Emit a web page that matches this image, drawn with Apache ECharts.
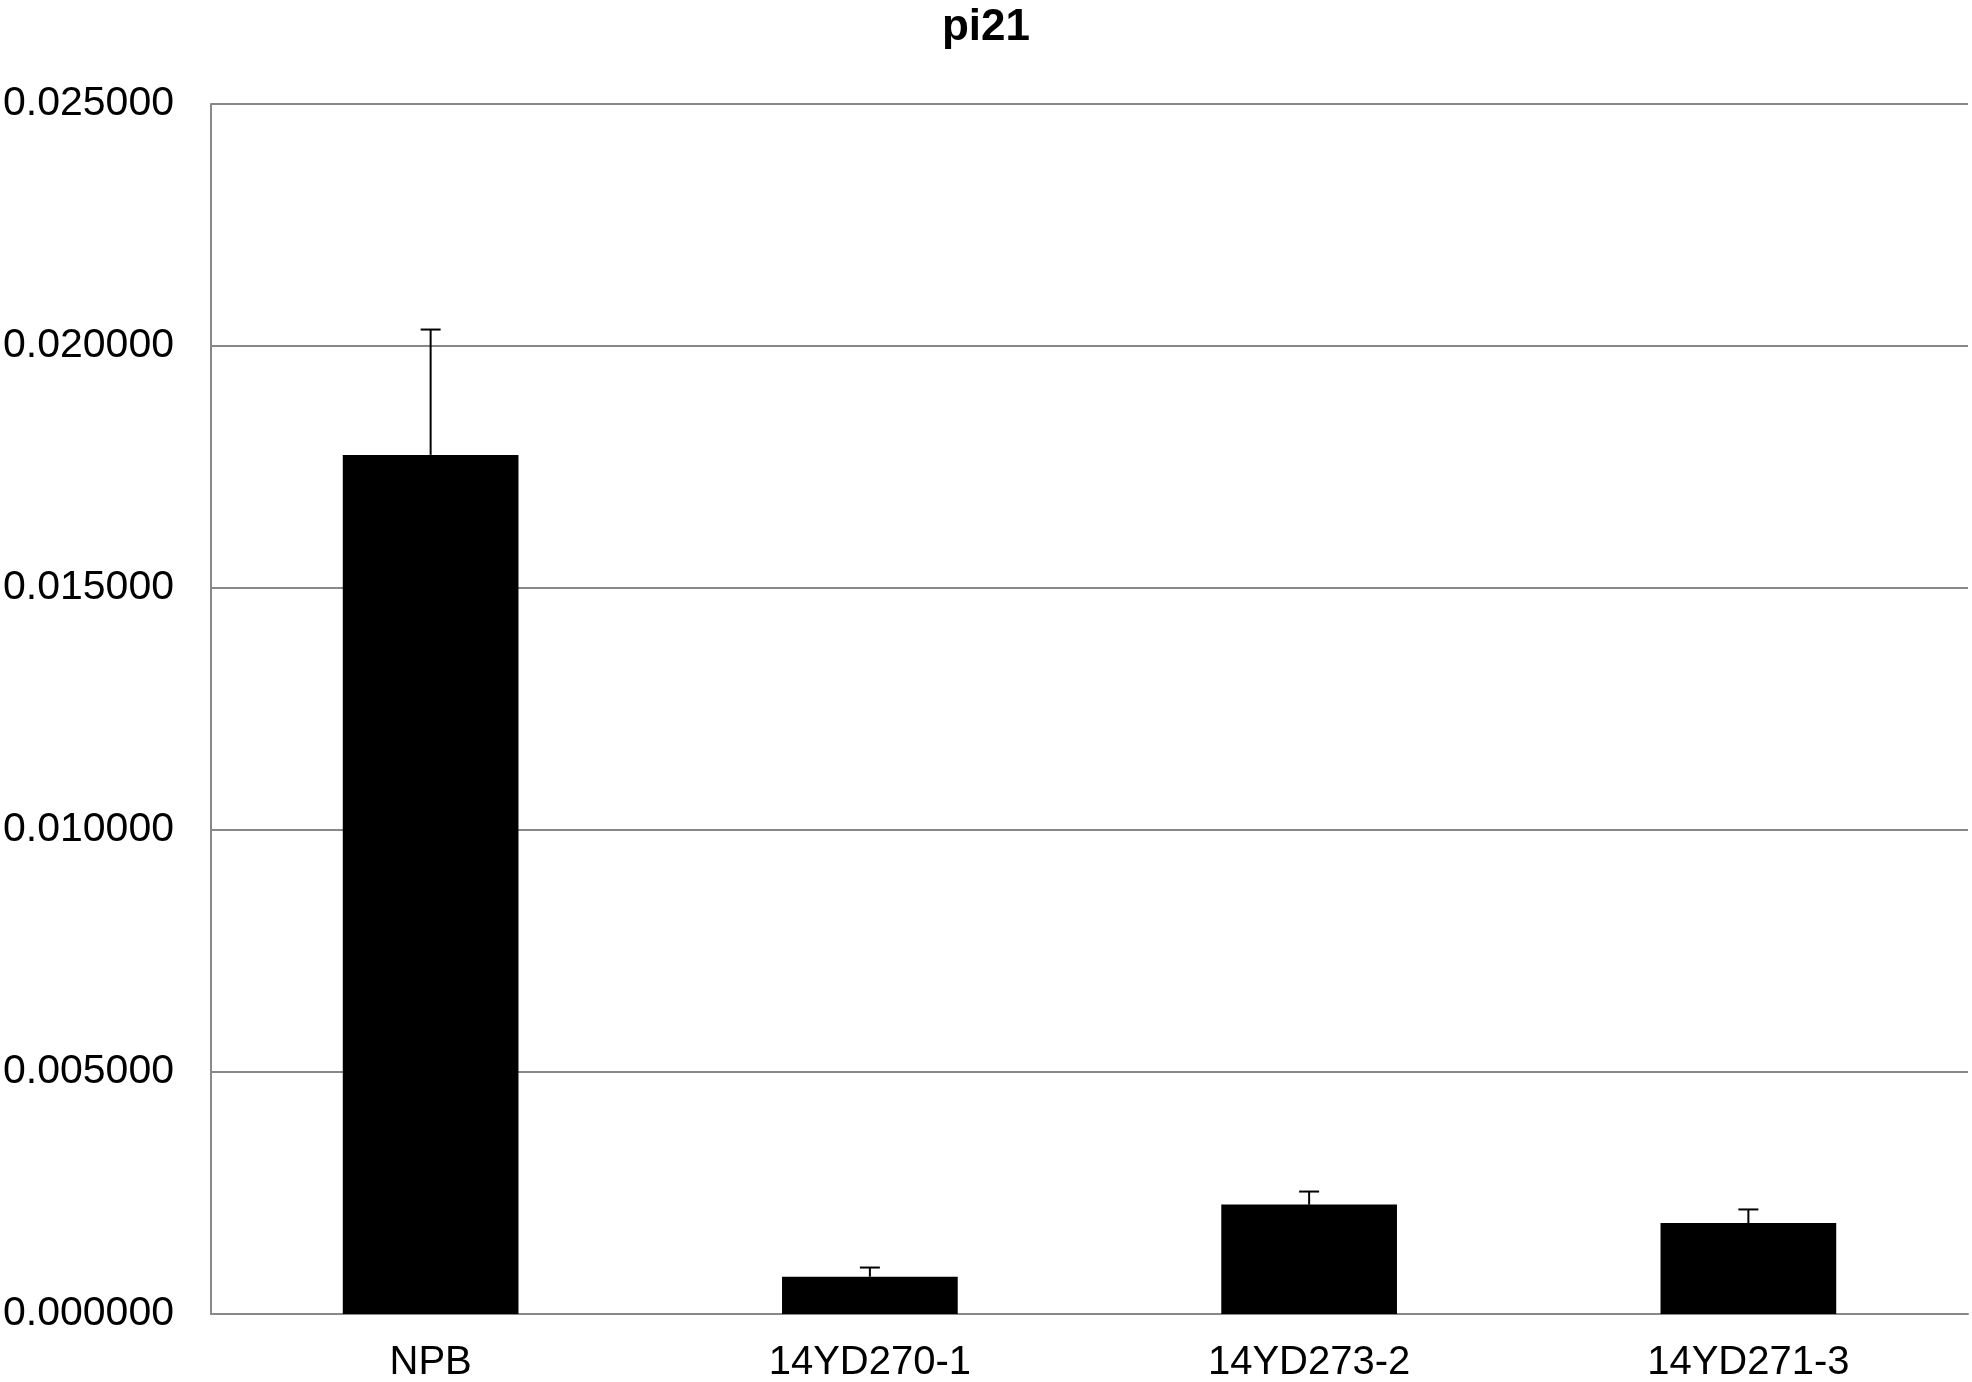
<!DOCTYPE html>
<html>
<head>
<meta charset="utf-8">
<style>
  html, body { margin: 0; padding: 0; background: #fff; }
  #chart { width: 1972px; height: 1382px; }
</style>
<script src="https://cdn.jsdelivr.net/npm/echarts@6/dist/echarts.min.js"></script>
</head>
<body>
<div id="chart"></div>
<script>
// values
const categories = ['NPB', '14YD270-1', '14YD273-2', '14YD271-3']
const means = [0.01775, 0.00077, 0.00226, 0.00188]
const errors = [0.00259, 0.00019, 0.00027, 0.00028]
const yTicks = { min: 0, max: 0.025, step: 0.005 }

let chart = echarts.init(document.getElementById('chart'))
const font = 'Liberation Sans, Arial, sans-serif'
const gray = '#888888'

let errData = means.map((m, i) => [i, m, m + errors[i]])

chart.setOption({
    animation: false,
    title: {
        text: 'pi21',
        left: 'center',
        top: 1,
        textStyle: { fontFamily: font, fontSize: 44, fontWeight: 'bold', color: '#000' }
    },
    grid: { left: 211, right: 4, top: 104, bottom: 68, outerBoundsMode: 'none' },
    xAxis: {
        type: 'category',
        data: categories,
        axisTick: { show: false },
        axisLine: { lineStyle: { color: gray, width: 2 } },
        axisLabel: { color: '#000', fontFamily: font, fontSize: 40, margin: 29 }
    },
    yAxis: {
        type: 'value',
        min: yTicks.min,
        max: yTicks.max,
        interval: yTicks.step,
        axisLine: { show: true, lineStyle: { color: gray, width: 2 } },
        axisTick: { show: false },
        splitLine: { lineStyle: { color: gray, width: 2 } },
        axisLabel: {
            color: '#000', fontFamily: font, fontSize: 41, margin: 37,
            formatter: v => v.toFixed(6)
        }
    },
    series: [
        {
            type: 'bar',
            data: means,
            barWidth: '40%',
            itemStyle: { color: '#000' }
        },
        {
            type: 'custom',
            data: errData,
            z: 10,
            renderItem: function (params, api) {
                let i = api.value(0)
                let lo = api.coord([i, api.value(1)])
                let hi = api.coord([i, api.value(2)])
                let half = 10
                let style = { stroke: '#000', lineWidth: 2 }
                return {
                    type: 'group',
                    children: [
                        { type: 'line', shape: { x1: lo[0], y1: lo[1], x2: hi[0], y2: hi[1] }, style: style },
                        { type: 'line', shape: { x1: hi[0] - half, y1: hi[1], x2: hi[0] + half, y2: hi[1] }, style: style }
                    ]
                }
            }
        }
    ]
})
</script>
</body>
</html>
